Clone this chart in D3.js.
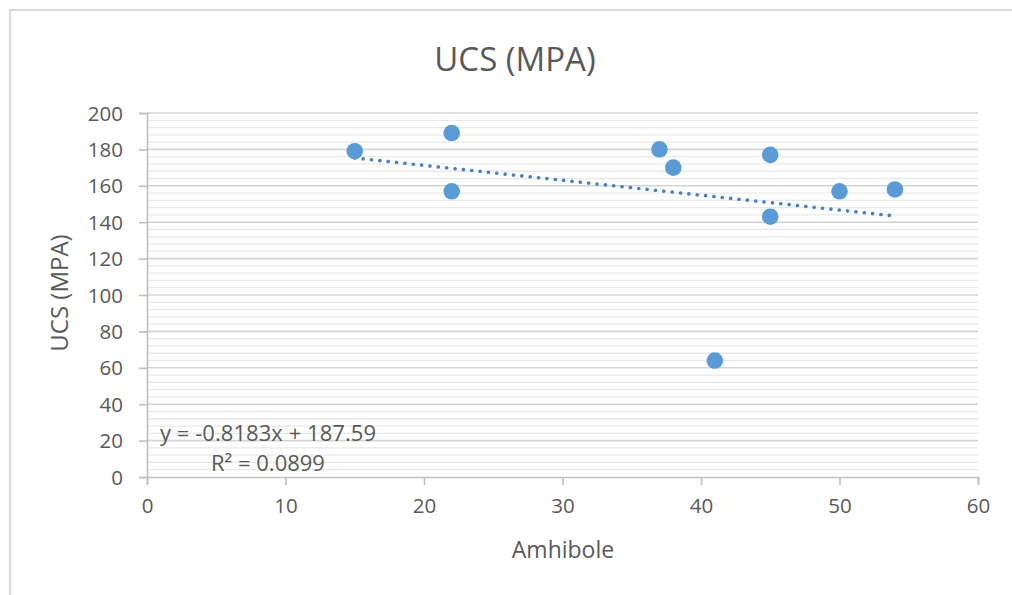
<!DOCTYPE html>
<html>
<head>
<meta charset="utf-8">
<script src="https://cdn.jsdelivr.net/npm/d3@7"></script>
<style>
  body { margin: 0; background: #fff; }
  text { font-family: "Open Sans", "Liberation Sans", sans-serif; fill: #595959; }
</style>
</head>
<body>
<svg width="1012" height="595"></svg>
<script>
// data
const amphibole = [15, 22, 22, 37, 38, 41, 45, 45, 50, 54];
const ucs = [179, 189, 157, 180, 170, 64, 177, 143, 157, 158];
const xTicks = [0, 10, 20, 30, 40, 50, 60];
const yTicks = [0, 20, 40, 60, 80, 100, 120, 140, 160, 180, 200];
const trend = { slope: -0.8183, intercept: 187.59 };
const eqLines = ["y = -0.8183x + 187.59", "R² = 0.0899"];

const points = amphibole.map((x, i) => ({x: x, y: ucs[i]}));

const svg = d3.select("svg"),
    width = +svg.attr("width"),
    height = +svg.attr("height");

const margin = {left: 147, right: 1012 - 978, top: 113, bottom: 595 - 477};

// outer chart border
svg.append("rect")
    .attr("x", 10).attr("y", 10)
    .attr("width", 1020).attr("height", 620)
    .attr("fill", "#fff")
    .attr("stroke", "#d9d9d9")
    .attr("stroke-width", 2);

const x = d3.scaleLinear().domain([0, 60]).range([margin.left, width - margin.right]);
const y = d3.scaleLinear().domain([0, 200]).range([height - margin.bottom, margin.top]);

// minor gridlines every 4
const grid = svg.append("g").attr("class", "grid");
grid.selectAll("line.minor")
    .data(d3.range(0, 201, 4).filter(v => v % 20 !== 0))
    .enter().append("line")
    .attr("class", "minor")
    .attr("x1", x(0)).attr("x2", x(60))
    .attr("y1", d => y(d)).attr("y2", d => y(d))
    .attr("stroke", "#e8e8e8")
    .attr("stroke-width", 1.3);

grid.selectAll("line.major")
    .data(yTicks.filter(v => v > 0))
    .enter().append("line")
    .attr("class", "major")
    .attr("x1", x(0)).attr("x2", x(60))
    .attr("y1", d => y(d)).attr("y2", d => y(d))
    .attr("stroke", "#d4d4d4")
    .attr("stroke-width", 1.6);

// axes
const xAxis = svg.append("g")
    .attr("transform", `translate(0,${y(0)})`)
    .call(d3.axisBottom(x).tickValues(xTicks).tickSize(8).tickPadding(13));
const yAxis = svg.append("g")
    .attr("transform", `translate(${x(0)},0)`)
    .call(d3.axisLeft(y).tickValues(yTicks).tickSize(8).tickPadding(16));

[xAxis, yAxis].forEach(a => {
    a.select(".domain").attr("stroke", "#bfbfbf").attr("stroke-width", 1.6);
    a.selectAll(".tick line").attr("stroke", "#bfbfbf").attr("stroke-width", 1.6);
    a.selectAll(".tick text").attr("font-size", 20.5).attr("fill", "#595959")
        .style("font-family", "'Open Sans', 'Liberation Sans', sans-serif");
});
yAxis.selectAll(".tick text").attr("dy", "0.35em");

// trendline
const tx = d3.extent(amphibole);
svg.append("line")
    .attr("x1", x(tx[0])).attr("y1", y(trend.intercept + trend.slope * tx[0]))
    .attr("x2", x(tx[1])).attr("y2", y(trend.intercept + trend.slope * tx[1]))
    .attr("stroke", "#4a80bf")
    .attr("stroke-width", 3.6)
    .attr("stroke-linecap", "round")
    .attr("stroke-dasharray", "0.1 8.3");

// points
svg.append("g").selectAll("circle")
    .data(points)
    .enter().append("circle")
    .attr("cx", d => x(d.x))
    .attr("cy", d => y(d.y))
    .attr("r", 8.3)
    .attr("fill", "#5b9bd5");

// equation label
svg.append("text")
    .attr("x", 160).attr("y", 433)
    .attr("dy", "0.35em")
    .attr("font-size", 22)
    .attr("textLength", 216)
    .text(eqLines[0]);
svg.append("text")
    .attr("x", 268).attr("y", 463)
    .attr("dy", "0.35em")
    .attr("text-anchor", "middle")
    .attr("font-size", 22)
    .text(eqLines[1]);

// titles
svg.append("text")
    .attr("x", 515).attr("y", 59)
    .attr("dy", "0.35em")
    .attr("text-anchor", "middle")
    .attr("font-size", 33)
    .text("UCS (MPA)");

svg.append("text")
    .attr("transform", "translate(60,293) rotate(-90)")
    .attr("dy", "0.35em")
    .attr("text-anchor", "middle")
    .attr("font-size", 24)
    .text("UCS (MPA)");

svg.append("text")
    .attr("x", 563).attr("y", 550)
    .attr("dy", "0.35em")
    .attr("text-anchor", "middle")
    .attr("font-size", 23)
    .text("Amhibole");
</script>
</body>
</html>
